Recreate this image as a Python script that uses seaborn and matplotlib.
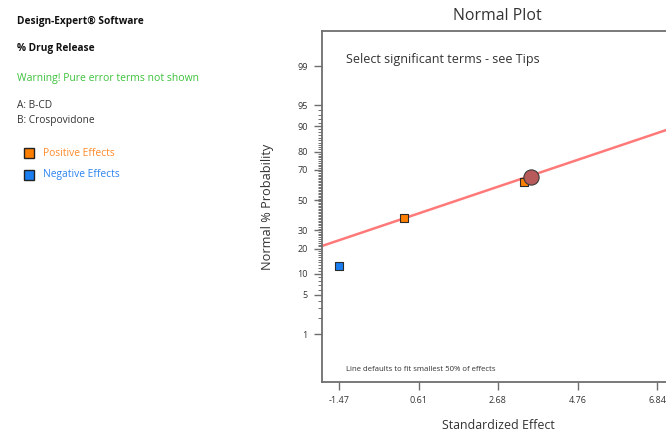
import matplotlib
matplotlib.use("Agg")
import matplotlib.pyplot as plt
from matplotlib.ticker import FixedLocator, NullFormatter
from statistics import NormalDist
import pandas as pd
import seaborn as sns

# Standardized effects and their normal probabilities (%)
effects = [-1.47, 0.23, 3.37]
probabilities = [12.5, 37.5, 62.5]
effect_sign = ["Negative", "Positive", "Positive"]

# Highlighted (selected) point
selected_effect = [3.54]
selected_prob = [65.6]

# Reference line fitted to the smallest 50% of effects
line_effect = [-1.93, 7.30]
line_prob = [21.2, 89.7]

x_ticks = [-1.47, 0.61, 2.68, 4.76, 6.84]
x_limits = [-1.93, 7.30]
y_major = [1, 5, 10, 20, 30, 50, 70, 80, 90, 95, 99]
y_minor = [p for p in range(2, 95) if p not in y_major]
y_limits = [0.079, 99.83]

nd = NormalDist()
def probit(p):
    return nd.inv_cdf(p / 100.0)

points = pd.DataFrame({
    "effect": effects,
    "z": [probit(p) for p in probabilities],
    "sign": effect_sign,
})
line_df = pd.DataFrame({"effect": line_effect, "z": [probit(p) for p in line_prob]})
sel_df = pd.DataFrame({"effect": selected_effect, "z": [probit(p) for p in selected_prob]})

sns.set_theme(style="white")
plt.rcParams["font.family"] = ["Open Sans", "DejaVu Sans"]

ORANGE = "#ff8000"
BLUE = "#1a7df0"
TXT = "#333333"
FRAME = "#6e6e6e"

fig = plt.figure(figsize=(6.66, 4.32), dpi=100)
ax = fig.add_axes([0.483, 0.1157, 0.530, 0.8118])

sns.lineplot(data=line_df, x="effect", y="z", ax=ax, color="#ff6b6b",
             linewidth=1.8, alpha=0.9, zorder=2)
sns.scatterplot(data=points, x="effect", y="z", hue="sign",
                palette={"Positive": ORANGE, "Negative": BLUE},
                marker="s", s=34, edgecolor="#2b2b2b", linewidth=0.8,
                legend=False, ax=ax, zorder=3)
sns.scatterplot(data=sel_df, x="effect", y="z", color="#b85a5a",
                marker="o", s=120, edgecolor="#3a3a3a", linewidth=0.8,
                legend=False, ax=ax, zorder=4)

ax.set_xlim(x_limits)
ax.set_ylim(probit(y_limits[0]), probit(y_limits[1]))
ax.set_xticks(x_ticks)
ax.set_xticklabels([f"{t:.2f}" for t in x_ticks])
ax.set_yticks([probit(p) for p in y_major])
ax.set_yticklabels([str(p) for p in y_major])
ax.yaxis.set_minor_locator(FixedLocator([probit(p) for p in y_minor]))
ax.yaxis.set_minor_formatter(NullFormatter())

ax.tick_params(axis="both", which="major", direction="out", length=6,
               width=1.0, color=FRAME, labelsize=6.5, labelcolor=TXT, pad=4)
ax.tick_params(axis="y", which="minor", direction="out", length=3,
               width=0.7, color=FRAME, left=True)
ax.tick_params(axis="x", bottom=True)
ax.tick_params(axis="y", left=True)

for side in ["left", "bottom", "top"]:
    ax.spines[side].set_color(FRAME)
    ax.spines[side].set_linewidth(1.3)
ax.spines["right"].set_visible(False)

ax.set_xlabel("Standardized Effect", fontsize=8.9, color=TXT, labelpad=10)
ax.set_ylabel("Normal % Probability", fontsize=9.2, color=TXT, labelpad=17)

ax.text(0.07, 0.92, "Select significant terms - see Tips", transform=ax.transAxes,
        fontsize=9.0, color=TXT, va="center", ha="left")
ax.text(0.07, 0.035, "Line defaults to fit smallest 50% of effects",
        transform=ax.transAxes, fontsize=5.6, color=TXT, va="center", ha="left")

fig.text(497 / 666, 1 - 16 / 432, "Normal Plot", fontsize=11.4, color=TXT,
         ha="center", va="center")

# Side panel
def ftxt(x, y, s, **kw):
    fig.text(x / 666, 1 - y / 432, s, va="center", ha="left", **kw)

ftxt(17, 21, "Design-Expert® Software", fontsize=7.3, fontweight="bold", color="#111111")
ftxt(17, 49, "% Drug Release", fontsize=7.3, fontweight="bold", color="#111111")
ftxt(17, 78, "Warning! Pure error terms not shown", fontsize=7.5, color="#3cc23c")
ftxt(17, 106, "A: B-CD", fontsize=7.3, color=TXT)
ftxt(17, 120, "B: Crospovidone", fontsize=7.3, color=TXT)
ftxt(43, 153, "Positive Effects", fontsize=7.4, color="#ff8a2a")
ftxt(43, 175, "Negative Effects", fontsize=7.4, color="#2d84f0")

for yy, col in [(153, ORANGE), (175, BLUE)]:
    fig.patches.append(plt.Rectangle(((29 - 5) / 666, 1 - (yy + 5) / 432),
                                     10 / 666, 10 / 432, transform=fig.transFigure,
                                     facecolor=col, edgecolor="#222222", linewidth=1.0))

fig.savefig("out.png", dpi=100)
